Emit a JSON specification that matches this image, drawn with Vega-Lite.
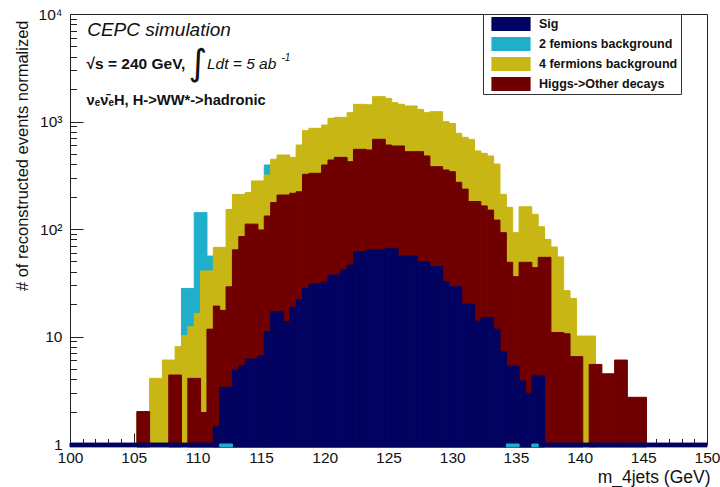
{
  "$schema": "https://vega.github.io/schema/vega-lite/v6.json",
  "width": 637,
  "height": 430,
  "autosize": {"type": "none"},
  "padding": {"left": 70, "top": 14, "right": 13, "bottom": 43},
  "background": "white",
  "config": {
    "view": {"stroke": "#222", "strokeWidth": 1},
    "font": "Liberation Sans",
    "axis": {"grid": false, "domain": false, "labelFont": "Liberation Sans", "titleFont": "Liberation Sans", "labelColor": "#111", "titleColor": "#111", "tickColor": "#222", "labelOverlap": false, "labelFlush": false},
    "text": {"color": "#111"}
  },
  "resolve": {"axis": {"x": "independent", "y": "independent"}},
  "datasets": {
    "bins": [
      {"lo": 109.75, "hi": 110.75, "s": "2 femions background", "v": 142},
      {"lo": 108.75, "hi": 109.75, "s": "2 femions background", "v": 28},
      {"lo": 110.75, "hi": 111.25, "s": "2 femions background", "v": 56},
      {"lo": 115.25, "hi": 115.75, "s": "2 femions background", "v": 394},

      {"lo": 105.25, "hi": 105.75, "s": "4 fermions background", "v": 2.0},
      {"lo": 105.75, "hi": 106.25, "s": "4 fermions background", "v": 2.0},
      {"lo": 106.25, "hi": 106.75, "s": "4 fermions background", "v": 4.08},
      {"lo": 106.75, "hi": 107.25, "s": "4 fermions background", "v": 4.08},
      {"lo": 107.25, "hi": 107.75, "s": "4 fermions background", "v": 6.04},
      {"lo": 107.75, "hi": 108.25, "s": "4 fermions background", "v": 6.04},
      {"lo": 108.25, "hi": 108.75, "s": "4 fermions background", "v": 8.04},
      {"lo": 108.75, "hi": 109.25, "s": "4 fermions background", "v": 10.2},
      {"lo": 109.25, "hi": 109.75, "s": "4 fermions background", "v": 12.3},
      {"lo": 109.75, "hi": 110.25, "s": "4 fermions background", "v": 16.4},
      {"lo": 110.25, "hi": 110.75, "s": "4 fermions background", "v": 40.7},
      {"lo": 110.75, "hi": 111.25, "s": "4 fermions background", "v": 40.7},
      {"lo": 111.25, "hi": 111.75, "s": "4 fermions background", "v": 67.5},
      {"lo": 111.75, "hi": 112.25, "s": "4 fermions background", "v": 67.5},
      {"lo": 112.25, "hi": 112.75, "s": "4 fermions background", "v": 152},
      {"lo": 112.75, "hi": 113.25, "s": "4 fermions background", "v": 210},
      {"lo": 113.25, "hi": 113.75, "s": "4 fermions background", "v": 210},
      {"lo": 113.75, "hi": 114.25, "s": "4 fermions background", "v": 218},
      {"lo": 114.25, "hi": 114.75, "s": "4 fermions background", "v": 280},
      {"lo": 114.75, "hi": 115.25, "s": "4 fermions background", "v": 280},
      {"lo": 115.25, "hi": 115.75, "s": "4 fermions background", "v": 318},
      {"lo": 115.75, "hi": 116.25, "s": "4 fermions background", "v": 445},
      {"lo": 116.25, "hi": 116.75, "s": "4 fermions background", "v": 488},
      {"lo": 116.75, "hi": 117.25, "s": "4 fermions background", "v": 488},
      {"lo": 117.25, "hi": 117.75, "s": "4 fermions background", "v": 464},
      {"lo": 117.75, "hi": 118.25, "s": "4 fermions background", "v": 604},
      {"lo": 118.25, "hi": 118.75, "s": "4 fermions background", "v": 822},
      {"lo": 118.75, "hi": 119.25, "s": "4 fermions background", "v": 864},
      {"lo": 119.25, "hi": 119.75, "s": "4 fermions background", "v": 864},
      {"lo": 119.75, "hi": 120.25, "s": "4 fermions background", "v": 927},
      {"lo": 120.25, "hi": 120.75, "s": "4 fermions background", "v": 1070},
      {"lo": 120.75, "hi": 121.25, "s": "4 fermions background", "v": 1093},
      {"lo": 121.25, "hi": 121.75, "s": "4 fermions background", "v": 1093},
      {"lo": 121.75, "hi": 122.25, "s": "4 fermions background", "v": 1208},
      {"lo": 122.25, "hi": 122.75, "s": "4 fermions background", "v": 1445},
      {"lo": 122.75, "hi": 123.25, "s": "4 fermions background", "v": 1445},
      {"lo": 123.25, "hi": 123.75, "s": "4 fermions background", "v": 1430},
      {"lo": 123.75, "hi": 124.25, "s": "4 fermions background", "v": 1703},
      {"lo": 124.25, "hi": 124.75, "s": "4 fermions background", "v": 1703},
      {"lo": 124.75, "hi": 125.25, "s": "4 fermions background", "v": 1640},
      {"lo": 125.25, "hi": 125.75, "s": "4 fermions background", "v": 1496},
      {"lo": 125.75, "hi": 126.25, "s": "4 fermions background", "v": 1445},
      {"lo": 126.25, "hi": 126.75, "s": "4 fermions background", "v": 1394},
      {"lo": 126.75, "hi": 127.25, "s": "4 fermions background", "v": 1394},
      {"lo": 127.25, "hi": 127.75, "s": "4 fermions background", "v": 1297},
      {"lo": 127.75, "hi": 128.25, "s": "4 fermions background", "v": 1208},
      {"lo": 128.25, "hi": 128.75, "s": "4 fermions background", "v": 1234},
      {"lo": 128.75, "hi": 129.25, "s": "4 fermions background", "v": 1234},
      {"lo": 129.25, "hi": 129.75, "s": "4 fermions background", "v": 996},
      {"lo": 129.75, "hi": 130.25, "s": "4 fermions background", "v": 960},
      {"lo": 130.25, "hi": 130.75, "s": "4 fermions background", "v": 776},
      {"lo": 130.75, "hi": 131.25, "s": "4 fermions background", "v": 713},
      {"lo": 131.25, "hi": 131.75, "s": "4 fermions background", "v": 683},
      {"lo": 131.75, "hi": 132.25, "s": "4 fermions background", "v": 533},
      {"lo": 132.25, "hi": 132.75, "s": "4 fermions background", "v": 506},
      {"lo": 132.75, "hi": 133.25, "s": "4 fermions background", "v": 478},
      {"lo": 133.25, "hi": 133.75, "s": "4 fermions background", "v": 402},
      {"lo": 133.75, "hi": 134.25, "s": "4 fermions background", "v": 210},
      {"lo": 134.25, "hi": 134.75, "s": "4 fermions background", "v": 159},
      {"lo": 134.75, "hi": 135.25, "s": "4 fermions background", "v": 92.5},
      {"lo": 135.25, "hi": 135.75, "s": "4 fermions background", "v": 161},
      {"lo": 135.75, "hi": 136.25, "s": "4 fermions background", "v": 161},
      {"lo": 136.25, "hi": 136.75, "s": "4 fermions background", "v": 137},
      {"lo": 136.75, "hi": 137.25, "s": "4 fermions background", "v": 105},
      {"lo": 137.25, "hi": 137.75, "s": "4 fermions background", "v": 80},
      {"lo": 137.75, "hi": 138.25, "s": "4 fermions background", "v": 68},
      {"lo": 138.25, "hi": 138.75, "s": "4 fermions background", "v": 55},
      {"lo": 138.75, "hi": 139.25, "s": "4 fermions background", "v": 26.7},
      {"lo": 139.25, "hi": 139.75, "s": "4 fermions background", "v": 22.6},
      {"lo": 139.75, "hi": 140.25, "s": "4 fermions background", "v": 10.1},
      {"lo": 140.25, "hi": 140.75, "s": "4 fermions background", "v": 10.1},
      {"lo": 140.75, "hi": 141.25, "s": "4 fermions background", "v": 10.1},

      {"lo": 105.25, "hi": 105.75, "s": "Higgs->Other decays", "v": 2.0},
      {"lo": 105.75, "hi": 106.25, "s": "Higgs->Other decays", "v": 2.0},
      {"lo": 107.75, "hi": 108.25, "s": "Higgs->Other decays", "v": 4.38},
      {"lo": 108.25, "hi": 108.75, "s": "Higgs->Other decays", "v": 4.38},
      {"lo": 109.25, "hi": 109.75, "s": "Higgs->Other decays", "v": 4.08},
      {"lo": 109.75, "hi": 110.25, "s": "Higgs->Other decays", "v": 4.08},
      {"lo": 110.25, "hi": 110.75, "s": "Higgs->Other decays", "v": 1.96},
      {"lo": 110.75, "hi": 111.25, "s": "Higgs->Other decays", "v": 11.7},
      {"lo": 111.25, "hi": 111.75, "s": "Higgs->Other decays", "v": 19.2},
      {"lo": 111.75, "hi": 112.25, "s": "Higgs->Other decays", "v": 17.5},
      {"lo": 112.25, "hi": 112.75, "s": "Higgs->Other decays", "v": 29},
      {"lo": 112.75, "hi": 113.25, "s": "Higgs->Other decays", "v": 64},
      {"lo": 113.25, "hi": 113.75, "s": "Higgs->Other decays", "v": 85},
      {"lo": 113.75, "hi": 114.25, "s": "Higgs->Other decays", "v": 111},
      {"lo": 114.25, "hi": 114.75, "s": "Higgs->Other decays", "v": 111},
      {"lo": 114.75, "hi": 115.25, "s": "Higgs->Other decays", "v": 98},
      {"lo": 115.25, "hi": 115.75, "s": "Higgs->Other decays", "v": 132},
      {"lo": 115.75, "hi": 116.25, "s": "Higgs->Other decays", "v": 176},
      {"lo": 116.25, "hi": 116.75, "s": "Higgs->Other decays", "v": 207},
      {"lo": 116.75, "hi": 117.25, "s": "Higgs->Other decays", "v": 207},
      {"lo": 117.25, "hi": 117.75, "s": "Higgs->Other decays", "v": 215},
      {"lo": 117.75, "hi": 118.25, "s": "Higgs->Other decays", "v": 222},
      {"lo": 118.25, "hi": 118.75, "s": "Higgs->Other decays", "v": 323},
      {"lo": 118.75, "hi": 119.25, "s": "Higgs->Other decays", "v": 330},
      {"lo": 119.25, "hi": 119.75, "s": "Higgs->Other decays", "v": 330},
      {"lo": 119.75, "hi": 120.25, "s": "Higgs->Other decays", "v": 394},
      {"lo": 120.25, "hi": 120.75, "s": "Higgs->Other decays", "v": 438},
      {"lo": 120.75, "hi": 121.25, "s": "Higgs->Other decays", "v": 464},
      {"lo": 121.25, "hi": 121.75, "s": "Higgs->Other decays", "v": 464},
      {"lo": 121.75, "hi": 122.25, "s": "Higgs->Other decays", "v": 423},
      {"lo": 122.25, "hi": 122.75, "s": "Higgs->Other decays", "v": 551},
      {"lo": 122.75, "hi": 123.25, "s": "Higgs->Other decays", "v": 551},
      {"lo": 123.25, "hi": 123.75, "s": "Higgs->Other decays", "v": 543},
      {"lo": 123.75, "hi": 124.25, "s": "Higgs->Other decays", "v": 683},
      {"lo": 124.25, "hi": 124.75, "s": "Higgs->Other decays", "v": 683},
      {"lo": 124.75, "hi": 125.25, "s": "Higgs->Other decays", "v": 604},
      {"lo": 125.25, "hi": 125.75, "s": "Higgs->Other decays", "v": 592},
      {"lo": 125.75, "hi": 126.25, "s": "Higgs->Other decays", "v": 592},
      {"lo": 126.25, "hi": 126.75, "s": "Higgs->Other decays", "v": 524},
      {"lo": 126.75, "hi": 127.25, "s": "Higgs->Other decays", "v": 524},
      {"lo": 127.25, "hi": 127.75, "s": "Higgs->Other decays", "v": 524},
      {"lo": 127.75, "hi": 128.25, "s": "Higgs->Other decays", "v": 478},
      {"lo": 128.25, "hi": 128.75, "s": "Higgs->Other decays", "v": 380},
      {"lo": 128.75, "hi": 129.25, "s": "Higgs->Other decays", "v": 380},
      {"lo": 129.25, "hi": 129.75, "s": "Higgs->Other decays", "v": 354},
      {"lo": 129.75, "hi": 130.25, "s": "Higgs->Other decays", "v": 341},
      {"lo": 130.25, "hi": 130.75, "s": "Higgs->Other decays", "v": 272},
      {"lo": 130.75, "hi": 131.25, "s": "Higgs->Other decays", "v": 235},
      {"lo": 131.25, "hi": 131.75, "s": "Higgs->Other decays", "v": 180},
      {"lo": 131.75, "hi": 132.25, "s": "Higgs->Other decays", "v": 180},
      {"lo": 132.25, "hi": 132.75, "s": "Higgs->Other decays", "v": 164},
      {"lo": 132.75, "hi": 133.25, "s": "Higgs->Other decays", "v": 150},
      {"lo": 133.25, "hi": 133.75, "s": "Higgs->Other decays", "v": 121},
      {"lo": 133.75, "hi": 134.25, "s": "Higgs->Other decays", "v": 92.5},
      {"lo": 134.25, "hi": 134.75, "s": "Higgs->Other decays", "v": 49},
      {"lo": 134.75, "hi": 135.25, "s": "Higgs->Other decays", "v": 36},
      {"lo": 135.25, "hi": 135.75, "s": "Higgs->Other decays", "v": 49},
      {"lo": 135.75, "hi": 136.25, "s": "Higgs->Other decays", "v": 49},
      {"lo": 136.25, "hi": 136.75, "s": "Higgs->Other decays", "v": 43.7},
      {"lo": 136.75, "hi": 137.25, "s": "Higgs->Other decays", "v": 54.5},
      {"lo": 137.25, "hi": 137.75, "s": "Higgs->Other decays", "v": 54.5},
      {"lo": 137.75, "hi": 138.25, "s": "Higgs->Other decays", "v": 10.9},
      {"lo": 138.25, "hi": 138.75, "s": "Higgs->Other decays", "v": 10.9},
      {"lo": 138.75, "hi": 139.25, "s": "Higgs->Other decays", "v": 10.6},
      {"lo": 139.25, "hi": 139.75, "s": "Higgs->Other decays", "v": 6.5},
      {"lo": 139.75, "hi": 140.25, "s": "Higgs->Other decays", "v": 6.5},
      {"lo": 140.75, "hi": 141.25, "s": "Higgs->Other decays", "v": 5.5},
      {"lo": 141.25, "hi": 141.75, "s": "Higgs->Other decays", "v": 5.5},
      {"lo": 141.75, "hi": 142.25, "s": "Higgs->Other decays", "v": 4.5},
      {"lo": 142.25, "hi": 142.75, "s": "Higgs->Other decays", "v": 4.5},
      {"lo": 142.75, "hi": 143.25, "s": "Higgs->Other decays", "v": 6.04},
      {"lo": 143.25, "hi": 143.75, "s": "Higgs->Other decays", "v": 6.04},
      {"lo": 143.75, "hi": 144.25, "s": "Higgs->Other decays", "v": 2.72},
      {"lo": 144.25, "hi": 144.75, "s": "Higgs->Other decays", "v": 2.72},
      {"lo": 144.75, "hi": 145.25, "s": "Higgs->Other decays", "v": 2.72},

      {"lo": 100, "hi": 150, "s": "Sig", "v": 1.02},

      {"lo": 111.25, "hi": 111.75, "s": "Sig", "v": 1.45},
      {"lo": 111.75, "hi": 112.25, "s": "Sig", "v": 3.37},
      {"lo": 112.25, "hi": 112.75, "s": "Sig", "v": 3.37},
      {"lo": 112.75, "hi": 113.25, "s": "Sig", "v": 4.88},
      {"lo": 113.25, "hi": 113.75, "s": "Sig", "v": 5.35},
      {"lo": 113.75, "hi": 114.25, "s": "Sig", "v": 6.18},
      {"lo": 114.25, "hi": 114.75, "s": "Sig", "v": 6.18},
      {"lo": 114.75, "hi": 115.25, "s": "Sig", "v": 6.6},
      {"lo": 115.25, "hi": 115.75, "s": "Sig", "v": 11.1},
      {"lo": 115.75, "hi": 116.25, "s": "Sig", "v": 17},
      {"lo": 116.25, "hi": 116.75, "s": "Sig", "v": 17},
      {"lo": 116.75, "hi": 117.25, "s": "Sig", "v": 13.7},
      {"lo": 117.25, "hi": 117.75, "s": "Sig", "v": 18.7},
      {"lo": 117.75, "hi": 118.25, "s": "Sig", "v": 21.9},
      {"lo": 118.25, "hi": 118.75, "s": "Sig", "v": 28},
      {"lo": 118.75, "hi": 119.25, "s": "Sig", "v": 30.8},
      {"lo": 119.25, "hi": 119.75, "s": "Sig", "v": 30.8},
      {"lo": 119.75, "hi": 120.25, "s": "Sig", "v": 32.3},
      {"lo": 120.25, "hi": 120.75, "s": "Sig", "v": 37.3},
      {"lo": 120.75, "hi": 121.25, "s": "Sig", "v": 37.3},
      {"lo": 121.25, "hi": 121.75, "s": "Sig", "v": 41.6},
      {"lo": 121.75, "hi": 122.25, "s": "Sig", "v": 46.2},
      {"lo": 122.25, "hi": 122.75, "s": "Sig", "v": 61.5},
      {"lo": 122.75, "hi": 123.25, "s": "Sig", "v": 61.5},
      {"lo": 123.25, "hi": 123.75, "s": "Sig", "v": 63.8},
      {"lo": 123.75, "hi": 124.25, "s": "Sig", "v": 63.8},
      {"lo": 124.25, "hi": 124.75, "s": "Sig", "v": 63.8},
      {"lo": 124.75, "hi": 125.25, "s": "Sig", "v": 66},
      {"lo": 125.25, "hi": 125.75, "s": "Sig", "v": 66},
      {"lo": 125.75, "hi": 126.25, "s": "Sig", "v": 56},
      {"lo": 126.25, "hi": 126.75, "s": "Sig", "v": 56},
      {"lo": 126.75, "hi": 127.25, "s": "Sig", "v": 56},
      {"lo": 127.25, "hi": 127.75, "s": "Sig", "v": 49.7},
      {"lo": 127.75, "hi": 128.25, "s": "Sig", "v": 49.7},
      {"lo": 128.25, "hi": 128.75, "s": "Sig", "v": 44.7},
      {"lo": 128.75, "hi": 129.25, "s": "Sig", "v": 44.7},
      {"lo": 129.25, "hi": 129.75, "s": "Sig", "v": 32.3},
      {"lo": 129.75, "hi": 130.25, "s": "Sig", "v": 29},
      {"lo": 130.25, "hi": 130.75, "s": "Sig", "v": 29},
      {"lo": 130.75, "hi": 131.25, "s": "Sig", "v": 20},
      {"lo": 131.25, "hi": 131.75, "s": "Sig", "v": 20},
      {"lo": 131.75, "hi": 132.25, "s": "Sig", "v": 13.9},
      {"lo": 132.25, "hi": 132.75, "s": "Sig", "v": 15},
      {"lo": 132.75, "hi": 133.25, "s": "Sig", "v": 15},
      {"lo": 133.25, "hi": 133.75, "s": "Sig", "v": 11.7},
      {"lo": 133.75, "hi": 134.25, "s": "Sig", "v": 7.2},
      {"lo": 134.25, "hi": 134.75, "s": "Sig", "v": 5.3},
      {"lo": 134.75, "hi": 135.25, "s": "Sig", "v": 5.3},
      {"lo": 135.25, "hi": 135.75, "s": "Sig", "v": 3.86},
      {"lo": 135.75, "hi": 136.25, "s": "Sig", "v": 2.96},
      {"lo": 136.25, "hi": 136.75, "s": "Sig", "v": 4.3},
      {"lo": 136.75, "hi": 137.25, "s": "Sig", "v": 4.3},

      {"lo": 111.75, "hi": 112.75, "s": "2 femions background", "v": 1.0},
      {"lo": 134.25, "hi": 135.25, "s": "2 femions background", "v": 1.0},
      {"lo": 136.25, "hi": 136.75, "s": "2 femions background", "v": 1.0}
    ]
  },
  "layer": [
    {
      "data": {"name": "bins"},
      "mark": {"type": "bar", "strokeWidth": 1},
      "encoding": {
        "x": {"field": "lo", "type": "quantitative", "scale": {"domain": [100, 150], "nice": false, "zero": false},
              "axis": {"orient": "bottom", "values": [100, 105, 110, 115, 120, 125, 130, 135, 140, 145, 150], "tickSize": -11, "labelPadding": 17, "labelFontSize": 15.5, "format": "d",
                       "title": "m_4jets (GeV)", "titleFontSize": 17.5, "titleFontWeight": "normal", "titleAnchor": "end", "titleAlign": "right", "titleX": 640, "titleY": 38, "titleBaseline": "alphabetic"}},
        "x2": {"field": "hi"},
        "y": {"field": "v", "type": "quantitative", "stack": null, "scale": {"type": "log", "domain": [1, 10000], "nice": false},
              "axis": {"orient": "left", "values": [1, 10, 100, 1000, 10000], "tickSize": -13, "labelPadding": 21, "labelFontSize": 15.5,
                       "labelExpr": "datum.value == 1 ? '1' : datum.value == 10 ? '10' : datum.value == 100 ? '10²' : datum.value == 1000 ? '10³' : '10⁴'",
                       "title": "# of reconstructed events normalized", "titleFontSize": 16.5, "titleFontWeight": "normal", "titleAngle": 270, "titleAlign": "right", "titleBaseline": "top", "titleX": -56, "titleY": 6, "titleAnchor": "end"}},
        "y2": {"datum": 0.94},
        "stroke": {"field": "s", "type": "nominal", "legend": null,
                   "scale": {"domain": ["Sig", "2 femions background", "4 fermions background", "Higgs->Other decays"], "range": ["#020260", "#1fafcb", "#c8b614", "#700000"]}},
        "color": {"field": "s", "type": "nominal",
                  "scale": {"domain": ["Sig", "2 femions background", "4 fermions background", "Higgs->Other decays"], "range": ["#020260", "#1fafcb", "#c8b614", "#700000"]},
                  "legend": {"title": null, "orient": "none", "legendX": 413, "legendY": 0, "direction": "vertical",
                             "symbolType": "M-2.8,-1H2.8V1H-2.8Z", "symbolSize": 196, "symbolStrokeWidth": 0, "symbolOpacity": 1,
                             "labelFont": "Liberation Sans", "labelFontWeight": "bold", "labelFontSize": 12.5, "labelColor": "#111",
                             "labelOffset": 21, "rowPadding": 6, "padding": 3, "symbolOffset": 18,
                             "strokeColor": "#333", "fillColor": "white", "cornerRadius": 0,
                             "labelExpr": "datum.label + '\u00a0\u00a0\u00a0\u00a0\u00a0\u00a0\u00a0\u00a0\u00a0\u00a0\u00a0\u00a0\u00a0'"}}
      }
    },
    {
      "data": {"values": [{}]},
      "mark": {"type": "text", "text": "CEPC simulation", "font": "Liberation Sans", "fontStyle": "italic", "fontSize": 19, "align": "left", "baseline": "alphabetic"},
      "encoding": {
        "x": {"datum": 101.35, "type": "quantitative", "scale": {"domain": [100, 150], "nice": false, "zero": false},
              "axis": {"orient": "bottom", "values": [101,102,103,104,106,107,108,109,111,112,113,114,116,117,118,119,121,122,123,124,126,127,128,129,131,132,133,134,136,137,138,139,141,142,143,144,146,147,148,149], "tickSize": -5.5, "labels": false, "title": null}},
        "y": {"datum": 6240, "type": "quantitative", "scale": {"type": "log", "domain": [1, 10000], "nice": false},
              "axis": {"orient": "left", "values": [2,3,4,5,6,7,8,9,20,30,40,50,60,70,80,90,200,300,400,500,600,700,800,900,2000,3000,4000,5000,6000,7000,8000,9000], "tickSize": -6.5, "labels": false, "title": null}}
      }
    },
    {
      "data": {"values": [{}]},
      "mark": {"type": "text", "text": "√s = 240 GeV,", "font": "Liberation Sans", "fontWeight": "bold", "fontSize": 15.5, "align": "left", "baseline": "alphabetic"},
      "encoding": {
        "x": {"datum": 101.3, "type": "quantitative", "scale": {"domain": [100, 150], "nice": false, "zero": false}, "axis": null},
        "y": {"datum": 3100, "type": "quantitative", "scale": {"type": "log", "domain": [1, 10000], "nice": false}, "axis": null}
      }
    },
    {
      "data": {"values": [{}]},
      "mark": {"type": "text", "text": "∫", "font": "DejaVu Sans", "fontSize": 36, "align": "left", "baseline": "alphabetic"},
      "encoding": {
        "x": {"datum": 109.3, "type": "quantitative", "scale": {"domain": [100, 150], "nice": false, "zero": false}, "axis": null},
        "y": {"datum": 2700, "type": "quantitative", "scale": {"type": "log", "domain": [1, 10000], "nice": false}, "axis": null}
      }
    },
    {
      "data": {"values": [{}]},
      "mark": {"type": "text", "text": "Ldt = 5 ab", "font": "Liberation Sans", "fontStyle": "italic", "fontSize": 15.5, "align": "left", "baseline": "alphabetic"},
      "encoding": {
        "x": {"datum": 110.75, "type": "quantitative", "scale": {"domain": [100, 150], "nice": false, "zero": false}, "axis": null},
        "y": {"datum": 3100, "type": "quantitative", "scale": {"type": "log", "domain": [1, 10000], "nice": false}, "axis": null}
      }
    },
    {
      "data": {"values": [{}]},
      "mark": {"type": "text", "text": "-1", "font": "Liberation Sans", "fontStyle": "italic", "fontSize": 10, "align": "left", "baseline": "alphabetic"},
      "encoding": {
        "x": {"datum": 116.6, "type": "quantitative", "scale": {"domain": [100, 150], "nice": false, "zero": false}, "axis": null},
        "y": {"datum": 3650, "type": "quantitative", "scale": {"type": "log", "domain": [1, 10000], "nice": false}, "axis": null}
      }
    },
    {
      "data": {"values": [{}]},
      "mark": {"type": "text", "text": "νₑν̄ₑH, H->WW*->hadronic", "font": "Liberation Sans", "fontWeight": "bold", "fontSize": 14.7, "align": "left", "baseline": "alphabetic"},
      "encoding": {
        "x": {"datum": 101.3, "type": "quantitative", "scale": {"domain": [100, 150], "nice": false, "zero": false}, "axis": null},
        "y": {"datum": 1430, "type": "quantitative", "scale": {"type": "log", "domain": [1, 10000], "nice": false}, "axis": null}
      }
    }
  ]
}
